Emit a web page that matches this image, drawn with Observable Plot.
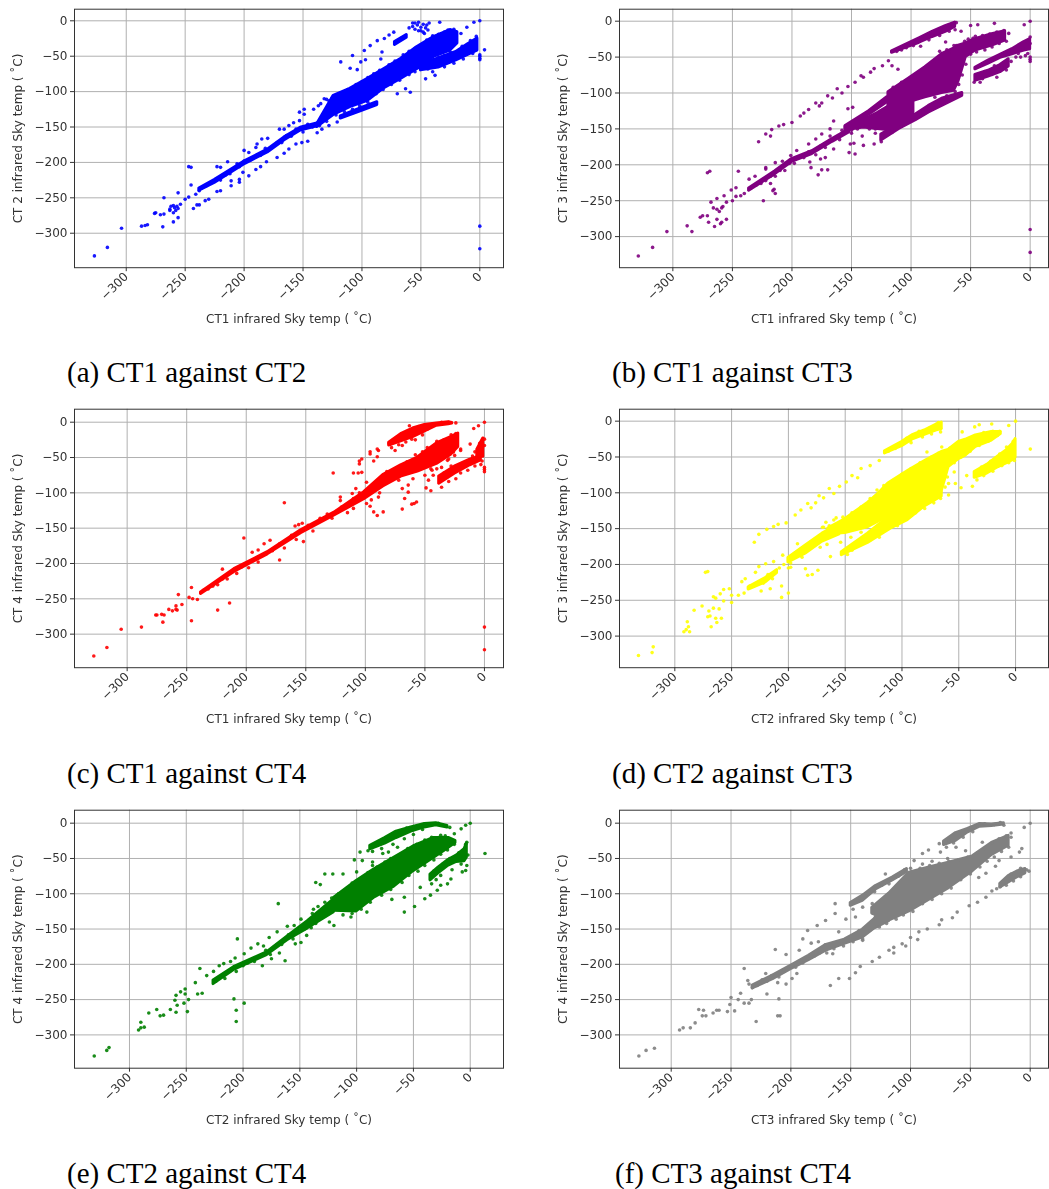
<!DOCTYPE html>
<html>
<head>
<meta charset="utf-8">
<script src="https://cdn.jsdelivr.net/npm/d3@7"></script>
<script src="https://cdn.jsdelivr.net/npm/@observablehq/plot@0.6"></script>
<style>
html,body{margin:0;padding:0;background:#fff;overflow:hidden}
#page{position:relative;width:1049px;height:1189px}
.cell{position:absolute}
.cell svg{display:block;filter:blur(.35px);background:transparent}
.cap{position:absolute;font-family:"Liberation Serif",serif;font-size:29px;line-height:34px;color:#000;white-space:nowrap}
</style>
</head>
<body>
<div id="page"></div>
<script>
const tickValues = [-300,-250,-200,-150,-100,-50,0];

// ---- (a) CT1 against CT2 : [x, y] points, and dense strips as [x, low, high]
const dotsA = [[-327,-332],[-316,-320],[-304,-293],[-287,-290],[-284,-289],[-282,-288],[-276,-272],[-275,-271],[-271,-274],[-268,-273],[-269,-291],[-268,-250],[-263,-266],[-262,-262],[-260,-261],[-259,-264],[-257,-262],[-256,-265],[-254,-259],[-258,-268],[-260,-271],[-263,-268],[-260,-284],[-256,-278],[-256,-243],[-247,-206],[-245,-207],[-245,-232],[-250,-252],[-247,-249],[-243,-265],[-240,-260],[-238,-260],[-241,-245],[-238,-240],[-233,-254],[-230,-252],[-223,-241],[-220,-240],[-211,-233],[-211,-226],[-204,-228],[-204,-224],[-201,-214],[-196,-219],[-190,-210],[-186,-206],[-181,-199],[-223,-206],[-220,-207],[-214,-199],[-206,-202],[-200,-183],[-196,-186],[-190,-179],[-189,-174],[-185,-167],[-180,-166],[-170,-153],[-166,-153],[-162,-148],[-158,-144],[-153,-141],[-149,-125],[-149,-132],[-153,-129],[-172,-193],[-166,-187],[-162,-181],[-156,-174],[-151,-172],[-146,-170],[-141,-125],[-137,-120],[-132,-110],[-128,-113],[-138,-158],[-134,-153],[-128,-148],[-121,-143],[-118,-58],[-110,-67],[-108,-49],[-104,-69],[-101,-58],[-97,-55],[-84,-54],[-83,-44],[-98,-42],[-93,-35],[-87,-28],[-81,-25],[-77,-20],[-73,-16],[-67,-25],[-60,-10],[-57,-3],[-55,-3],[-52,-2],[-50,-14],[-47,-18],[-43,-3],[-34,-2],[-16,-18],[-11,-9],[-5,-2],[0,0],[0,-48],[0,-50],[0,-53],[0,-55],[4,-41],[0,-290],[0,-322],[-70,-103],[-59,-101],[-63,-96],[-46,-82],[-38,-77],
[-57,-8],[-55,-12],[-53,-6],[-52,-14],[-50,-9],[-48,-5],[-48,-16],[-46,-10],[-45,-6],[-44,-13],
[-22,-12],[-27,-13],[-30,-16],[-35,-19],[-40,-21],[-45,-27],[-48,-32],[-55,-39],[-60,-43],[-65,-48],[-72,-57],[-77,-62],[-85,-70],[-90,-75],[-95,-80],[-100,-86],[-105,-90],[-112,-97],[-118,-102],[-125,-108],[-130,-111],[-135,-117],[-25,-44],[-30,-49],[-35,-52],[-42,-56],[-48,-64],[-55,-72],[-60,-76],[-68,-84],[-75,-90],[-82,-97],[-88,-103],[-95,-115],[-102,-120],[-108,-125],[-115,-128],[-122,-133],[-130,-142],[-136,-148],
[-236,-236],[-232,-233],[-228,-229],[-224,-224],[-220,-225],[-216,-218],[-212,-216],[-208,-208],[-204,-206],[-200,-198],[-194,-196],[-190,-192],[-186,-190],[-182,-180],[-176,-178],[-172,-172],[-168,-172],[-164,-162],[-160,-163],[-156,-153],[-150,-157],[-146,-146],[-142,-150],
[-44,-68],[-40,-72],[-30,-65],[-26,-50],[-22,-60],[-15,-36],[-14,-54],[-8,-28],[-6,-46],[-3,-22]];
const stripsA = [
  [[-138,-150,-146],[-124,-133,-106],[-110,-122,-96],[-95,-113,-82],[-81,-95,-68],[-67,-82,-54],[-53,-68,-37],[-39,-51,-23],[-25,-42,-13],[-19,-32,-16]],
  [[-238,-240,-237],[-225,-229,-225],[-199,-202,-198],[-180,-186,-182],[-166,-169,-165],[-152,-155,-151],[-138,-149,-145]],
  [[-118,-138,-135],[-100,-127,-123],[-87,-119,-115]],
  [[-50,-70,-62],[-35,-66,-53],[-20,-56,-44],[-10,-48,-33],[-2,-42,-25]],
  [[-72,-34,-30],[-62,-24,-20]]
];

// ---- (b) CT1 against CT3
const dotsB = [[-329,-327],[-317,-315],[-305,-293],[-288,-285],[-284,-293],[-277,-273],[-275,-271],[-271,-271],[-270,-280],[-265,-286],[-263,-276],[-260,-282],[-259,-280],[-255,-276],[-266,-260],[-263,-262],[-261,-265],[-259,-260],[-258,-258],[-263,-247],[-257,-243],[-255,-252],[-268,-252],[-271,-211],[-269,-209],[-251,-235],[-250,-250],[-247,-232],[-247,-244],[-243,-243],[-240,-240],[-245,-209],[-236,-220],[-231,-216],[-224,-250],[-222,-206],[-218,-226],[-215,-234],[-214,-240],[-216,-236],[-228,-168],[-222,-157],[-218,-160],[-217,-151],[-211,-146],[-207,-144],[-200,-141],[-193,-132],[-190,-128],[-186,-123],[-180,-114],[-177,-118],[-175,-114],[-170,-104],[-166,-107],[-162,-94],[-158,-100],[-153,-91],[-147,-85],[-142,-76],[-140,-78],[-134,-71],[-131,-66],[-124,-62],[-119,-55],[-116,-62],[-111,-67],[-222,-204],[-214,-197],[-208,-195],[-201,-187],[-196,-180],[-186,-171],[-180,-164],[-175,-157],[-168,-150],[-165,-139],[-153,-122],[-149,-120],[-185,-196],[-184,-204],[-178,-214],[-175,-207],[-170,-207],[-176,-192],[-172,-190],[-165,-178],[-152,-183],[-147,-185],[-151,-171],[-148,-170],[-140,-173],[-131,-171],[-141,-160],[-130,-150],[-124,-162],[-116,-155],[-50,-6],[-44,-5],[-30,-3],[-5,-5],[0,0],[0,-22],[0,-31],[0,-50],[0,-53],[0,-56],[0,-290],[0,-322],[-58,-14],[-52,-25],[-46,-21],[-71,-29],[-64,-34],[-76,-42],[-68,-43],[-60,-104],
[-112,-42],[-108,-40],[-104,-37],[-98,-34],[-95,-28],[-92,-35],[-88,-22],[-85,-26],[-80,-17],[-76,-20],[-72,-10],[-68,-14],[-65,-6],[-62,-2],[-63,-12],
[-115,-92],[-108,-85],[-100,-78],[-94,-72],[-86,-62],[-80,-55],[-75,-48],[-70,-40],[-62,-34],[-55,-28],[-48,-24],[-40,-20],[-34,-18],[-28,-15],[-22,-13],[-18,-17],[-20,-28],[-26,-31],[-32,-36],[-38,-40],[-45,-43],[-50,-46],[-54,-60],[-57,-75],[-60,-88],[-63,-98],
[-70,-104],[-80,-106],[-85,-118],[-90,-125],[-100,-138],[-108,-146],[-116,-152],[-122,-160],[-125,-168],[-130,-156],[-135,-150],[-140,-146],[-145,-150],[-150,-152],
[-44,-74],[-40,-80],[-38,-70],[-32,-74],[-30,-62],[-28,-78],[-24,-65],[-20,-68],[-16,-56],[-12,-50],[-10,-45],[-8,-50],[-6,-38],[-4,-48],[-2,-30],[-2,-45],[-47,-85],[-42,-85],
[-234,-232],[-230,-228],[-226,-226],[-222,-222],[-218,-216],[-214,-216],[-210,-208],[-206,-208],[-202,-198],[-198,-198],[-194,-190],[-190,-190],[-186,-182],[-180,-186],[-176,-174],[-172,-176],[-168,-160],[-160,-165],[-158,-152],[-150,-156]];
const stripsB = [
  [[-119,-120,-99],[-102,-113,-80],[-88,-106,-64],[-74,-100,-46],[-64,-97,-38],[-60,-83,-34],[-54,-50,-31],[-46,-41,-25],[-32,-34,-18],[-21,-27,-14]],
  [[-125,-166,-158],[-110,-150,-144],[-96,-138,-130],[-85,-127,-118],[-74,-118,-108],[-57,-104,-100]],
  [[-155,-150,-146],[-135,-130,-125],[-120,-113,-106]],
  [[-155,-152,-147],[-140,-148,-138],[-128,-150,-128],[-118,-152,-118],[-108,-140,-118],[-98,-130,-112]],
  [[-236,-236,-233],[-214,-213,-209],[-200,-196,-192],[-183,-185,-181],[-166,-168,-164],[-152,-155,-151]],
  [[-116,-44,-42],[-93,-30,-24],[-82,-22,-15],[-71,-15,-7],[-63,-8,-2]],
  [[-46,-67,-65],[-35,-59,-55],[-25,-51,-47],[-15,-46,-39],[-5,-41,-29],[0,-39,-25]],
  [[-46,-83,-75],[-35,-77,-69],[-25,-71,-61],[-18,-63,-53]]
];

// ---- (c) CT1 against CT4
const dotsC = [[-328,-331],[-317,-319],[-305,-293],[-288,-290],[-276,-273],[-275,-273],[-271,-272],[-269,-273],[-270,-283],[-265,-265],[-262,-267],[-259,-265],[-259,-260],[-258,-266],[-257,-244],[-254,-258],[-246,-281],[-246,-234],[-248,-248],[-245,-250],[-241,-251],[-224,-266],[-214,-256],[-220,-208],[-202,-164],[-195,-184],[-190,-181],[-185,-172],[-180,-167],[-172,-195],[-159,-147],[-156,-145],[-153,-143],[-152,-169],[-9,-9],[-5,-5],[0,0],[0,-64],[0,-67],[0,-70],[0,-290],[0,-322],[0,-24],[0,-33],[-80,-30],[-63,-5],[-77,-26],[-75,-40],[-69,-33],[-61,-24],[-20,-40],[-12,-31],[-26,-42],[-31,-54],[-40,-66],[-45,-66],[-43,-75],[-47,-82],[-49,-93],[-45,-97],[-59,-115],[-57,-113],[-61,-116],[-69,-123],[-67,-108],[-64,-99],[-69,-94],[-64,-89],[-85,-127],[-90,-132],[-93,-127],[-96,-119],[-99,-115],[-89,-106],[-121,-106],[-121,-111],[-110,-122],[-96,-42],[-96,-45],[-90,-38],[-89,-40],[-93,-55],[-90,-49],[-103,-52],[-105,-55],[-105,-59],[-103,-71],[-106,-72],[-110,-72],[-127,-72],[-168,-114],[-99,-85],[-108,-94],[-111,-101],
[-236,-238],[-232,-236],[-228,-232],[-224,-230],[-220,-222],[-216,-222],[-212,-212],[-208,-214],[-204,-205],[-198,-206],[-194,-196],[-190,-198],[-186,-188],[-178,-182],[-172,-172],[-168,-178],[-162,-160],[-158,-166],[-148,-146],[-144,-154],[-138,-136],[-132,-130],[-128,-136],[-120,-120],[-115,-128],[-110,-108],[-105,-100],[-95,-110],[-88,-100],[-82,-70],[-76,-68],[-72,-82],[-65,-56],[-60,-80],[-58,-46],[-52,-42],[-48,-36],[-50,-75],[-44,-68],[-40,-27],[-36,-64],[-34,-25],[-30,-52],[-28,-18],[-25,-47],[-24,-16],[-20,-38],
[-78,-36],[-74,-22],[-72,-32],[-68,-16],[-66,-28],[-62,-12],[-58,-25],[-55,-6],[-52,-18],[-48,-10],[-44,-3],[-36,0],[-30,0],[-24,-1],
[-36,-92],[-34,-72],[-30,-84],[-28,-62],[-24,-80],[-20,-72],[-18,-58],[-14,-68],[-10,-48],[-8,-62],[-4,-30],[-3,-60],[-8,-42],[-2,-55]];
const stripsC = [
  [[-238,-243,-241],[-210,-212,-208],[-182,-187,-184],[-154,-157,-153],[-126,-132,-128],[-101,-109,-99],[-85,-91,-75],[-70,-77,-61],[-56,-70,-50],[-40,-59,-30],[-28,-46,-21],[-22,-35,-16]],
  [[-80,-33,-29],[-70,-27,-17],[-60,-21,-9],[-50,-13,-4],[-40,-5,-2],[-30,-3,0],[-27,-2,-1]],
  [[-38,-87,-77],[-25,-73,-63],[-12,-61,-53],[-3,-54,-48]],
  [[-6,-49,-39],[-1,-49,-23]]
];

// ---- (d) CT2 against CT3
const dotsD = [[-332,-327],[-320,-323],[-319,-315],[-292,-294],[-287,-294],[-289,-280],[-288,-287],[-290,-291],[-283,-264],[-276,-258],[-271,-273],[-269,-272],[-268,-287],[-270,-265],[-266,-261],[-264,-275],[-263,-281],[-259,-275],[-261,-262],[-273,-211],[-271,-210],[-266,-245],[-264,-247],[-260,-241],[-257,-235],[-252,-234],[-257,-251],[-250,-253],[-250,-243],[-244,-243],[-239,-240],[-241,-224],[-238,-220],[-230,-169],[-226,-158],[-219,-151],[-213,-147],[-209,-144],[-202,-142],[-194,-131],[-189,-124],[-183,-115],[-180,-121],[-176,-114],[-173,-104],[-169,-107],[-164,-94],[-160,-101],[-155,-91],[-149,-85],[-144,-76],[-139,-79],[-136,-66],[-128,-62],[-120,-55],[-224,-237],[-216,-234],[-206,-230],[-206,-246],[-200,-240],[-198,-204],[-185,-206],[-183,-215],[-179,-214],[-174,-208],[-229,-211],[-226,-203],[-220,-199],[-213,-196],[-205,-187],[-192,-171],[-169,-148],[-167,-141],[-160,-138],[-154,-169],[-145,-162],[-163,-189],[-136,-155],[0,0],[-6,-6],[-21,-4],[-32,-5],[-36,-8],[13,-39],[-47,-15],[-41,-25],[-78,-43],[-65,-36],[-59,-87],[-54,-71],[-53,-87],[-48,-93],[-59,-103],[-38,-91],[-43,-76],[-54,-55],[-66,-15],
[-122,-96],[-116,-90],[-108,-83],[-100,-74],[-92,-66],[-84,-58],[-74,-50],[-68,-45],[-58,-38],[-50,-30],[-42,-25],[-36,-21],[-28,-16],[-20,-14],[-14,-14],[-16,-20],[-24,-28],[-32,-34],[-40,-42],[-48,-50],[-54,-58],[-60,-78],[-62,-92],[-70,-104],
[-148,-186],[-144,-180],[-140,-170],[-136,-172],[-128,-166],[-120,-162],[-112,-150],[-104,-146],[-96,-136],[-88,-128],[-80,-122],[-72,-114],[-66,-108],
[-170,-148],[-164,-146],[-158,-135],[-152,-134],[-144,-128],[-136,-120],[-128,-108],[-120,-100],[-180,-168],[-188,-190],[-194,-186],[-198,-198],[-176,-172],[-172,-176],[-166,-172],[-160,-150],
[-234,-230],[-228,-228],[-222,-226],[-218,-214],[-214,-220],[-208,-205],[-204,-200],[-200,-205],
[-112,-42],[-106,-38],[-102,-33],[-96,-24],[-92,-30],[-85,-14],[-82,-22],[-76,-10],[-74,-18],[-68,-2],[-66,-10],
[-34,-82],[-30,-64],[-28,-76],[-22,-56],[-20,-70],[-14,-46],[-12,-62],[-8,-36],[-6,-58],[-2,-28],[-1,-55],[-3,-48]];
const stripsD = [
  [[-126,-120,-110],[-112,-131,-87],[-94,-119,-69],[-79,-111,-55],[-65,-98,-43],[-59,-64,-40],[-50,-53,-29],[-44,-48,-26],[-35,-36,-20],[-21,-27,-15],[-13,-18,-15]],
  [[-153,-187,-183],[-130,-170,-157],[-110,-150,-132],[-95,-138,-117],[-80,-119,-109],[-65,-105,-99]],
  [[-165,-158,-150],[-150,-156,-137],[-130,-148,-114],[-112,-133,-90]],
  [[-200,-197,-191],[-185,-185,-174],[-170,-168,-157],[-155,-158,-144]],
  [[-235,-235,-232],[-220,-225,-219],[-210,-212,-208]],
  [[-115,-45,-42],[-100,-35,-29],[-90,-25,-19],[-80,-19,-13],[-70,-13,-5],[-65,-11,-2]],
  [[-36,-79,-71],[-25,-73,-61],[-15,-64,-49],[-8,-59,-41],[-2,-54,-31],[0,-51,-25]]
];

// ---- (e) CT2 against CT4
const dotsE = [[-331,-330],[-320,-322],[-318,-318],[-292,-293],[-290,-282],[-290,-290],[-287,-289],[-283,-269],[-276,-264],[-273,-273],[-270,-272],[-264,-264],[-259,-268],[-260,-251],[-259,-244],[-255,-239],[-251,-235],[-251,-242],[-258,-258],[-252,-255],[-249,-267],[-248,-250],[-240,-242],[-236,-241],[-242,-226],[-238,-206],[-232,-216],[-226,-210],[-221,-202],[-217,-199],[-211,-196],[-208,-249],[-206,-265],[-206,-281],[-199,-255],[-207,-191],[-205,-164],[-199,-185],[-193,-177],[-187,-171],[-182,-174],[-183,-202],[-175,-192],[-168,-184],[-163,-195],[-169,-114],[-177,-162],[-170,-154],[-161,-146],[-154,-171],[-149,-169],[-144,-159],[-136,-84],[-132,-87],[-128,-72],[-121,-72],[-112,-72],[-100,-69],[-102,-52],[-95,-53],[-86,-55],[-86,-60],[-97,-41],[-90,-39],[-155,-145],[-149,-136],[-139,-128],[-124,-140],[-120,-145],[-105,-133],[-91,-126],[-69,-108],[-58,-105],[-58,-126],[-49,-118],[-40,-107],[-35,-102],[-44,-91],[-26,-88],[-29,-95],[-17,-79],[-20,-86],[-7,-69],[-4,-67],[0,0],[-4,-3],[-8,-8],[-3,-27],[13,-43],[-14,-15],[-72,-41],[-64,-34],[-77,-43],
[-116,-100],[-110,-95],[-104,-85],[-96,-78],[-90,-70],[-82,-62],[-75,-55],[-70,-50],[-62,-45],[-55,-36],[-47,-30],[-40,-24],[-34,-20],[-26,-17],[-22,-18],[-16,-24],[-14,-30],[-20,-38],[-26,-44],[-32,-52],[-40,-60],[-46,-68],[-54,-74],[-60,-84],[-70,-94],[-78,-102],[-88,-112],[-96,-122],[-104,-128],[-112,-130],[-124,-128],[-130,-125],[-138,-122],[-134,-118],[-128,-112],[-122,-106],[-224,-224],[-220,-218],[-216,-220],[-212,-210],[-206,-210],[-200,-202],[-196,-198],[-190,-196],[-186,-190],[-180,-180],[-176,-186],[-170,-172],[-166,-172],[-160,-158],[-156,-164],[-150,-150],[-146,-150],[-140,-148],[-136,-142],
[-86,-40],[-82,-28],[-78,-36],[-72,-20],[-68,-30],[-62,-14],[-58,-22],[-56,-7],[-50,-16],[-46,-4],[-42,-9],[-36,-1],[-28,0],[-24,-3],[-18,-6],
[-34,-86],[-32,-68],[-30,-80],[-24,-58],[-26,-74],[-18,-50],[-16,-66],[-10,-42],[-8,-58],[-4,-30],[-3,-60],[-6,-48],[-2,-45]];
const stripsE = [
  [[-120,-124,-106],[-100,-125,-82],[-85,-106,-66],[-67,-90,-49],[-50,-68,-33],[-32,-49,-21],[-19,-35,-21],[-13,-28,-25]],
  [[-226,-228,-223],[-208,-208,-204],[-179,-187,-183],[-161,-166,-161],[-143,-149,-139],[-120,-126,-108]],
  [[-88,-37,-32],[-75,-29,-21],[-65,-21,-12],[-52,-12,-6],[-40,-6,-1],[-30,-3,0],[-20,-6,-4]],
  [[-35,-81,-73],[-28,-71,-63],[-20,-61,-53],[-12,-55,-46],[-5,-54,-37],[-3,-49,-29]]
];

// ---- (f) CT3 against CT4
const dotsF = [[-327,-330],[-321,-322],[-314,-319],[-293,-293],[-290,-290],[-284,-290],[-280,-283],[-277,-264],[-273,-265],[-274,-273],[-271,-273],[-265,-269],[-262,-265],[-260,-265],[-253,-267],[-251,-257],[-247,-266],[-250,-247],[-244,-250],[-242,-241],[-239,-255],[-235,-255],[-233,-250],[-239,-206],[-236,-223],[-229,-281],[-229,-230],[-221,-213],[-211,-273],[-209,-273],[-210,-249],[-220,-242],[-213,-179],[-204,-186],[-204,-228],[-211,-226],[-199,-220],[-195,-213],[-193,-180],[-190,-164],[-183,-170],[-177,-168],[-186,-152],[-178,-145],[-171,-138],[-163,-128],[-163,-114],[-167,-230],[-160,-220],[-151,-220],[-146,-212],[-142,-203],[-132,-196],[-126,-190],[-118,-180],[-114,-176],[-114,-184],[-107,-171],[-104,-174],[-100,-162],[-94,-165],[-93,-154],[-86,-150],[-76,-144],[-74,-137],[-65,-134],[-61,-126],[-51,-117],[-44,-112],[-37,-105],[-32,-96],[-121,-72],[-97,-53],[-90,-43],[-90,-58],[-85,-38],[-82,-54],[-75,-41],[-76,-29],[-69,-50],[-62,-34],[-54,-39],[-40,-27],[-7,-36],[-9,-41],[-16,-48],[-26,-53],[-29,-61],[-37,-71],[-43,-77],[-5,-6],[0,0],[-1,-68],[-16,-14],[-160,-154],[-143,-152],[-154,-136],[-146,-133],[-140,-119],[-132,-114],[-129,-128],[-126,-147],[-140,-166],[-157,-171],[-165,-185],
[-148,-122],[-144,-110],[-136,-100],[-130,-97],[-124,-88],[-118,-86],[-110,-75],[-105,-66],[-100,-64],[-92,-64],[-84,-60],[-76,-57],[-68,-54],[-60,-52],[-52,-48],[-44,-42],[-38,-36],[-32,-28],[-26,-22],[-20,-18],[-16,-20],[-18,-34],[-24,-40],[-30,-48],[-36,-54],[-42,-62],[-50,-72],[-58,-80],[-66,-92],[-74,-100],[-82,-108],[-90,-114],[-98,-125],[-106,-130],[-112,-136],[-120,-142],[-128,-146],[-134,-152],[-140,-164],[-148,-168],[-156,-174],[-164,-178],[-170,-184],
[-176,-184],[-180,-188],[-186,-192],[-190,-198],[-196,-204],[-200,-203],[-206,-208],[-210,-218],[-216,-216],[-220,-224],[-224,-222],[-228,-230],[-232,-233],[-235,-228],
[-70,-34],[-68,-24],[-64,-28],[-60,-14],[-56,-20],[-52,-8],[-48,-12],[-44,-4],[-38,-1],[-30,-2],[-25,1],[-22,-3],[-25,-90],[-20,-88],[-16,-72],[-14,-82],[-8,-64],[-8,-76],[-3,-66],[-28,-93]];
const stripsF = [
  [[-132,-128,-120],[-118,-138,-100],[-101,-125,-70],[-85,-109,-63],[-68,-92,-56],[-48,-68,-47],[-32,-45,-28],[-18,-32,-18]],
  [[-150,-117,-113],[-140,-110,-103],[-129,-94,-89],[-115,-81,-77],[-103,-69,-65]],
  [[-171,-181,-173],[-155,-171,-165],[-140,-162,-151],[-130,-149,-136],[-118,-139,-106]],
  [[-72,-31,-26],[-62,-25,-14],[-52,-13,-8],[-42,-5,-1],[-32,-4,-2],[-22,-2,0]],
  [[-25,-91,-86],[-18,-84,-75],[-10,-76,-68],[-4,-71,-65]],
  [[-232,-234,-230],[-215,-221,-216],[-200,-207,-202],[-185,-194,-188],[-171,-181,-173]]
];

const panels = [
  {dots:dotsA,strips:stripsA,color:"blue",  xl:"CT1",yl:"CT 2",cap:"(a) CT1 against CT2",left:0,  top:0,  mt:8.7,mb:128.3,dx:[-343.9,20.1],dy:[-348.7,16.4],cx:67,cy:350},
  {dots:dotsB,strips:stripsB,color:"purple",xl:"CT1",yl:"CT 3",cap:"(b) CT1 against CT3",left:525,top:0,  mt:8.7,mb:128.3,dx:[-344.8,15.4],dy:[-343.3,16.7],cx:612,cy:350},
  {dots:dotsC,strips:stripsC,color:"red",   xl:"CT1",yl:"CT 4",cap:"(c) CT1 against CT4",left:0,  top:400,mt:8.7,mb:127.3,dx:[-344.2,16],  dy:[-347.5,18.4],cx:67,cy:751},
  {dots:dotsD,strips:stripsD,color:"yellow",xl:"CT2",yl:"CT 3",cap:"(d) CT2 against CT3",left:525,top:400,mt:8.7,mb:127.3,dx:[-348.7,29],  dy:[-344.1,16.7],cx:612,cy:751},
  {dots:dotsE,strips:stripsE,color:"green", xl:"CT2",yl:"CT 4",cap:"(e) CT2 against CT4",left:0,  top:800,mt:9.7,mb:121.3,dx:[-348.4,29.3],dy:[-347.2,18.4],cx:67,cy:1151},
  {dots:dotsF,strips:stripsF,color:"gray",  xl:"CT3",yl:"CT 4",cap:"(f) CT3 against CT4",left:525,top:800,mt:9.7,mb:121.3,dx:[-343.2,15.3],dy:[-347.2,18.4],cx:615,cy:1151}
];

const page = document.getElementById("page");
const minus = d => String(d).replace("-", "−");
for (const p of panels) {
  const isRight = p.left > 0;
  const width = isRight ? 524 : 525;
  const height = p.mb + p.mt + (p.top === 800 ? 258 : 258.5);
  const rows = p.strips.flatMap((s, i) => s.map(([x, lo, hi]) => ({i, x, lo, hi})));
  const chart = Plot.plot({
    width, height,
    marginLeft: isRight ? 94 : 74,
    marginRight: isRight ? 1 : 22,
    marginTop: p.mt,
    marginBottom: p.mb,
    style: {fontFamily: "'DejaVu Sans',sans-serif", fontSize: "12px", color: "#333", background: "transparent"},
    x: {domain: p.dx},
    y: {domain: p.dy},
    marks: [
      Plot.gridX(tickValues, {stroke: "#b0b0b0", strokeOpacity: 1, strokeWidth: 1}),
      Plot.gridY(tickValues, {stroke: "#b0b0b0", strokeOpacity: 1, strokeWidth: 1}),
      Plot.areaY(rows, {x: "x", y1: "lo", y2: "hi", z: "i", fill: p.color, stroke: p.color, strokeWidth: 3, strokeLinejoin: "round", curve: "linear"}),
      Plot.dot(p.dots, {x: d => d[0], y: d => d[1], r: 1.8, fill: p.color, fillOpacity: .9, stroke: "none"}),
      Plot.frame({stroke: "#333", strokeWidth: 1}),
      Plot.axisX({ticks: tickValues, tickRotate: -45, tickSize: 4, tickPadding: 3, fontSize: 12,
        label: p.xl + " infrared Sky temp ( ˚C)", labelAnchor: "center", labelArrow: "none", labelOffset: 55.5, tickFormat: minus}),
      Plot.axisY({ticks: tickValues, tickSize: 4, tickPadding: 3, fontSize: 12,
        label: p.yl + " infrared Sky temp ( ˚C)", labelAnchor: "center", labelArrow: "none", labelOffset: 61, tickFormat: minus})
    ]
  });
  const cell = document.createElement("div");
  cell.className = "cell";
  cell.style.left = p.left + "px";
  cell.style.top = p.top + "px";
  cell.appendChild(chart);
  page.appendChild(cell);
  const cap = document.createElement("div");
  cap.className = "cap";
  cap.style.left = p.cx + "px";
  cap.style.top = (p.cy + 5) + "px";
  cap.textContent = p.cap;
  page.appendChild(cap);
}
</script>
</body>
</html>
